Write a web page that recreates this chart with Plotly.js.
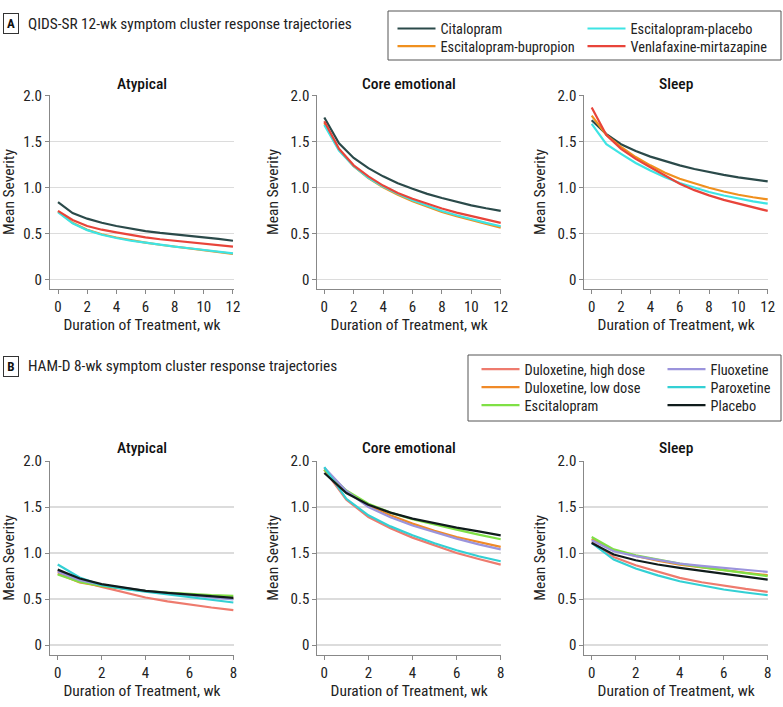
<!DOCTYPE html>
<html>
<head>
<meta charset="utf-8">
<script src="https://cdn.plot.ly/plotly-3.0.1.min.js"></script>
<style>html,body{margin:0;padding:0;background:#fff;}#chart{width:783px;height:707px;}
svg text{font-stretch:condensed;}</style>
</head>
<body>
<div id="chart"></div>
<script>
// ---------- data ----------
var weeksA = [0,1,2,3,4,5,6,7,8,9,10,11,12];
var weeksB = [0,1,2,3,4,5,6,7,8];

var seriesNamesA = ['Citalopram','Escitalopram-bupropion','Escitalopram-placebo','Venlafaxine-mirtazapine'];
var seriesNamesB = ['Duloxetine, high dose','Duloxetine, low dose','Escitalopram','Fluoxetine','Paroxetine','Placebo'];
var clusterNames = ['Atypical','Core emotional','Sleep'];

// Panel A (QIDS-SR), weeks 0-12
var citalopramAtypical  = [0.84,0.72,0.66,0.615,0.58,0.55,0.525,0.505,0.49,0.47,0.455,0.44,0.42];
var escBupAtypical      = [0.74,0.615,0.54,0.49,0.455,0.425,0.40,0.376,0.356,0.337,0.318,0.298,0.278];
var escPlaAtypical      = [0.73,0.61,0.535,0.485,0.45,0.42,0.40,0.375,0.355,0.338,0.32,0.30,0.283];
var venMirAtypical      = [0.745,0.645,0.58,0.54,0.51,0.48,0.456,0.436,0.42,0.402,0.387,0.37,0.355];

var citalopramCore      = [1.76,1.48,1.32,1.21,1.12,1.045,0.985,0.93,0.885,0.843,0.805,0.773,0.745];
var escBupCore          = [1.70,1.41,1.23,1.10,1.00,0.92,0.85,0.79,0.733,0.686,0.643,0.602,0.563];
var escPlaCore          = [1.68,1.40,1.23,1.105,1.01,0.93,0.86,0.80,0.744,0.697,0.653,0.614,0.578];
var venMirCore          = [1.72,1.42,1.24,1.12,1.02,0.94,0.877,0.82,0.77,0.726,0.686,0.649,0.614];

var citalopramSleep     = [1.73,1.58,1.47,1.395,1.335,1.285,1.24,1.2,1.166,1.137,1.11,1.087,1.065];
var escBupSleep         = [1.78,1.57,1.44,1.33,1.24,1.16,1.094,1.042,0.996,0.956,0.92,0.893,0.87];
var escPlaSleep         = [1.69,1.47,1.365,1.265,1.184,1.11,1.047,0.995,0.95,0.912,0.877,0.848,0.823];
var venMirSleep         = [1.87,1.57,1.42,1.31,1.22,1.13,1.04,0.97,0.913,0.865,0.823,0.782,0.744];

// Panel B (HAM-D), weeks 0-8
var dulHighAtypical = [0.806,0.698,0.633,0.572,0.517,0.475,0.44,0.408,0.38];
var dulLowAtypical  = [0.778,0.68,0.64,0.61,0.586,0.562,0.542,0.523,0.506];
var escAtypical     = [0.767,0.687,0.644,0.614,0.59,0.57,0.553,0.543,0.535];
var fluAtypical     = [0.796,0.705,0.655,0.62,0.59,0.564,0.542,0.518,0.495];
var parAtypical     = [0.875,0.734,0.65,0.61,0.58,0.55,0.524,0.494,0.463];
var placAtypical    = [0.82,0.723,0.662,0.622,0.59,0.568,0.55,0.532,0.514];

var dulHighCore = [1.906,1.58,1.392,1.27,1.168,1.08,1.0,0.935,0.875];
var dulLowCore  = [1.91,1.67,1.52,1.41,1.32,1.243,1.175,1.118,1.067];
var escCore     = [1.906,1.68,1.537,1.44,1.367,1.307,1.255,1.2,1.15];
var fluCore     = [1.93,1.675,1.50,1.39,1.30,1.225,1.157,1.095,1.04];
var parCore     = [1.935,1.59,1.41,1.29,1.193,1.107,1.03,0.965,0.911];
var placCore    = [1.87,1.653,1.526,1.44,1.374,1.322,1.277,1.235,1.193];

var dulHighSleep = [1.12,0.958,0.868,0.795,0.73,0.683,0.644,0.61,0.579];
var dulLowSleep  = [1.154,1.03,0.97,0.918,0.875,0.843,0.814,0.786,0.76];
var escSleep     = [1.175,1.04,0.976,0.927,0.886,0.848,0.814,0.78,0.749];
var fluSleep     = [1.14,1.02,0.966,0.922,0.886,0.86,0.839,0.818,0.796];
var parSleep     = [1.11,0.93,0.832,0.757,0.694,0.646,0.604,0.571,0.542];
var placSleep    = [1.11,0.984,0.922,0.876,0.839,0.806,0.778,0.745,0.712];

// tick labels
var yTickVals = [0,0.5,1,1.5,2];
var yTickText = ['0','0.5','1.0','1.5','2.0'];
var yTickTextBCore = ['0','0.5','1.5','1.0','2.0'];  // as printed in the source figure
var xTickValsA = [0,2,4,6,8,10,12];
var xTickValsB = [0,2,4,6,8];

// ---------- styling ----------
var FONT = 'Roboto, "Open Sans", sans-serif';
var colorsA = ['#2b4a4a','#f0901e','#3ee4e4','#e8443a'];
var colorsB = ['#ee7b6e','#f08a28','#7fe045','#9b94dc','#33d0d4','#101c1c'];

var dataA = [
  [citalopramAtypical, citalopramCore, citalopramSleep],
  [escBupAtypical, escBupCore, escBupSleep],
  [escPlaAtypical, escPlaCore, escPlaSleep],
  [venMirAtypical, venMirCore, venMirSleep]
];
var dataB = [
  [dulHighAtypical, dulHighCore, dulHighSleep],
  [dulLowAtypical, dulLowCore, dulLowSleep],
  [escAtypical, escCore, escSleep],
  [fluAtypical, fluCore, fluSleep],
  [parAtypical, parCore, parSleep],
  [placAtypical, placCore, placSleep]
];

var W = 783, H = 707;
function px(x){ return x / W; }
function py(y){ return (H - y) / H; }

// legend entry positions (line start x, row centre y), one legend per entry
var legPosA = [[397.5,28.7],[397.5,46.3],[587.5,28.7],[587.5,46.3]];
var legPosB = [[481.5,369.3],[481.5,387.3],[481.5,405.3],[667.5,369.3],[667.5,387.3],[667.5,405.3]];

var traces = [];
dataA.forEach(function(s, i){
  for (var c = 0; c < 3; c++) {
    traces.push({
      x: weeksA, y: s[c], type: 'scatter', mode: 'lines',
      name: seriesNamesA[i], legendgroup: 'A' + i, showlegend: c === 0,
      legend: i === 0 ? 'legend' : 'legend' + (i + 1),
      line: {color: colorsA[i], width: 2.2},
      xaxis: c === 0 ? 'x' : 'x' + (c + 1),
      yaxis: c === 0 ? 'y' : 'y' + (c + 1),
      hoverinfo: 'skip'
    });
  }
});
dataB.forEach(function(s, i){
  for (var c = 0; c < 3; c++) {
    traces.push({
      x: weeksB, y: s[c], type: 'scatter', mode: 'lines',
      name: seriesNamesB[i], legendgroup: 'B' + i, showlegend: c === 0,
      legend: 'legend' + (i + 5),
      line: {color: colorsB[i], width: 2.2},
      xaxis: 'x' + (c + 4), yaxis: 'y' + (c + 4),
      hoverinfo: 'skip'
    });
  }
});

var xDom = [[50,234],[317.3,501],[584.3,768]];
var xRangesA = [[-0.549,12.07],[-0.476,12.02],[-0.504,12.02]];
var xRangesB = [[-0.351,8.03],[-0.317,8.014],[-0.336,8.014]];
var yDomA = [95, 289], yDomB = [460.7, 655];

var layout = {
  width: W, height: H,
  margin: {l:0, r:0, t:0, b:0},
  paper_bgcolor: '#fff', plot_bgcolor: 'rgba(0,0,0,0)',
  font: {family: FONT, size: 14, color: '#222'},
  showlegend: true,
  annotations: [], shapes: []
};

function xAxis(dom, range, tickvals, anchor){
  return {
    domain: [px(dom[0]), px(dom[1])], range: range, anchor: anchor,
    tickvals: tickvals, ticks: 'outside', ticklen: 4, tickcolor: '#888', tickwidth: 1,
    showline: true, linecolor: '#888', linewidth: 1, showgrid: false, zeroline: false,
    tickfont: {family: FONT, size: 15, color: '#222'},
    title: {text: 'Duration of Treatment, wk', font: {family: FONT, size: 15.5, color: '#222'}, standoff: 3},
    fixedrange: true
  };
}
function yAxis(dom, range, ticktext, anchor){
  return {
    domain: [py(dom[1]), py(dom[0])], range: range, anchor: anchor,
    tickvals: yTickVals, ticktext: ticktext,
    ticks: 'outside', ticklen: 4, tickcolor: '#888', tickwidth: 1,
    showline: true, linecolor: '#888', linewidth: 1,
    showgrid: true, gridcolor: '#dcdcdc', gridwidth: 1.3, zeroline: false,
    tickfont: {family: FONT, size: 15, color: '#222'},
    title: {text: 'Mean Severity', font: {family: FONT, size: 15.5, color: '#222'}, standoff: 8},
    fixedrange: true
  };
}

for (var c = 0; c < 3; c++) {
  var sa = c === 0 ? '' : String(c + 1);
  var sb = String(c + 4);
  layout['xaxis' + sa] = xAxis(xDom[c], xRangesA[c], xTickValsA, 'y' + sa);
  layout['yaxis' + sa] = yAxis(yDomA, [-0.105, 2.005], yTickText, 'x' + sa);
  layout['xaxis' + sb] = xAxis(xDom[c], xRangesB[c], xTickValsB, 'y' + sb);
  layout['yaxis' + sb] = yAxis(yDomB, [-0.108, 2.004], c === 1 ? yTickTextBCore : yTickText, 'x' + sb);
  var cx = px((xDom[c][0] + xDom[c][1]) / 2);
  layout.annotations.push({xref:'paper', yref:'paper', x: cx, y: py(84), text: clusterNames[c],
    showarrow:false, xanchor:'center', yanchor:'middle', font:{family: FONT, size: 15.5, color:'#111', weight: 500}});
  layout.annotations.push({xref:'paper', yref:'paper', x: cx, y: py(448), text: clusterNames[c],
    showarrow:false, xanchor:'center', yanchor:'middle', font:{family: FONT, size: 15.5, color:'#111', weight: 500}});
}

// panel labels
[['A', 24, 'QIDS-SR 12-wk symptom cluster response trajectories'],
 ['B', 366, 'HAM-D 8-wk symptom cluster response trajectories']].forEach(function(p){
  layout.annotations.push({xref:'paper', yref:'paper', x: px(11), y: py(p[1]), text: '<b>' + p[0] + '</b>',
    showarrow:false, xanchor:'center', yanchor:'middle', font:{family: FONT, size: 13, color:'#111'},
    bordercolor:'#333', borderwidth:1, borderpad:2, width: 10});
  layout.annotations.push({xref:'paper', yref:'paper', x: px(26), y: py(p[1]), text: p[2],
    showarrow:false, xanchor:'left', yanchor:'middle', font:{family: FONT, size: 15.3, color:'#222'}});
});

// legend frames
layout.shapes.push({type:'rect', xref:'paper', yref:'paper', x0:px(388), x1:px(781), y0:py(11), y1:py(60),
  line:{color:'#555', width:1}, fillcolor:'rgba(0,0,0,0)'});
layout.shapes.push({type:'rect', xref:'paper', yref:'paper', x0:px(468), x1:px(781), y0:py(355), y1:py(421),
  line:{color:'#555', width:1}, fillcolor:'rgba(0,0,0,0)'});

function legendEntry(pos){
  return {orientation:'v', x: px(pos[0] - 5), y: py(pos[1]), xanchor:'left', yanchor:'middle',
    bgcolor:'rgba(0,0,0,0)', borderwidth:0, font:{family: FONT, size: 14.3, color:'#222'},
    itemclick:false, itemdoubleclick:false, itemwidth: 38};
}
legPosA.forEach(function(p, i){ layout[i === 0 ? 'legend' : 'legend' + (i + 1)] = legendEntry(p); });
legPosB.forEach(function(p, i){ layout['legend' + (i + 5)] = legendEntry(p); });

Plotly.newPlot('chart', traces, layout, {displayModeBar:false, staticPlot:true});
</script>
</body>
</html>
